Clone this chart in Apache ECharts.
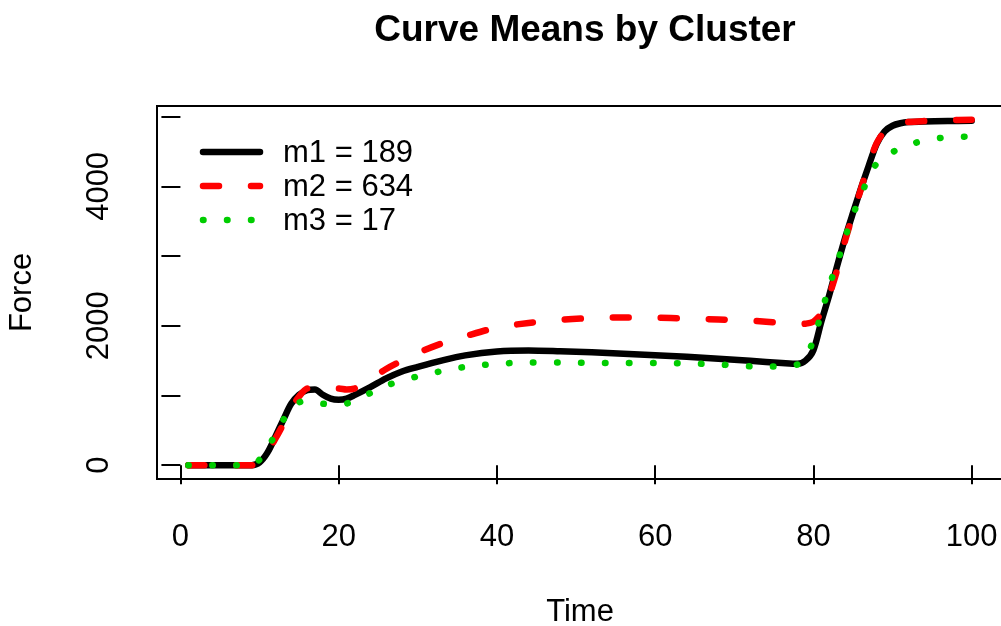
<!DOCTYPE html>
<html>
<head>
<meta charset="utf-8">
<script src="https://cdn.jsdelivr.net/npm/echarts@6/dist/echarts.min.js"></script>
<style>
  html, body { margin: 0; padding: 0; background: #fff; }
  #chart { width: 1001px; height: 626px; }
</style>
</head>
<body>
<div id="chart"></div>
<script>
// Sampled time points shared by the three cluster mean curves
const times = [1, 4, 7, 9, 10, 11, 12, 13, 14, 15, 16, 17, 18, 19, 20, 21, 22, 24, 26, 28, 30, 33, 36, 40, 44, 48, 52, 56, 60, 64, 68, 72, 76, 78, 79, 80, 81, 82, 83, 84, 85, 86, 87, 88, 89, 90, 91, 92, 94, 97, 100];

// Mean force per cluster
const m1 = [0, 0, 0, 0, 40, 180, 410, 650, 880, 1010, 1075, 1085, 1010, 955, 940, 955, 1005, 1120, 1245, 1345, 1410, 1500, 1575, 1632, 1646, 1635, 1620, 1600, 1578, 1555, 1528, 1497, 1467, 1455, 1500, 1650, 2060, 2440, 2860, 3260, 3620, 3970, 4300, 4610, 4790, 4870, 4905, 4922, 4932, 4938, 4940];
const m2 = [0, 0, 0, 0, 50, 190, 380, 590, 820, 985, 1100, 1110, 1095, 1095, 1100, 1085, 1100, 1230, 1380, 1500, 1610, 1745, 1850, 1975, 2040, 2086, 2110, 2119, 2115, 2106, 2090, 2073, 2040, 2025, 2030, 2060, 2180, 2440, 2800, 3220, 3600, 3960, 4320, 4620, 4790, 4870, 4910, 4925, 4937, 4950, 4955];
const m3 = [0, 0, 0, 0, 80, 250, 440, 650, 800, 900, 925, 905, 882, 876, 878, 885, 930, 1035, 1140, 1215, 1275, 1350, 1410, 1455, 1472, 1474, 1468, 1465, 1465, 1460, 1445, 1418, 1415, 1445, 1540, 1800, 2180, 2570, 2900, 3260, 3590, 3870, 4130, 4330, 4420, 4490, 4550, 4590, 4660, 4705, 4715];

// Cluster labels with member counts
const clusterNames = ['m1 = 189', 'm2 = 634', 'm3 = 17'];

// Axis ticks and labels
const xTicks = [0, 20, 40, 60, 80, 100];
const yTicks = [0, 1000, 2000, 3000, 4000, 5000];
const yLabels = [0, 2000, 4000];

const pairs = arr => times.map((t, i) => [t, arr[i]]);

const FONT = 'Liberation Sans, Arial, Helvetica, sans-serif';
const FS = 31;
const LINE_W = 6.5;

const colors = ['#000000', '#FF0000', '#00CD00'];
const dashes = ['solid', [16, 32], [0.5, 23.5]];

const chart = echarts.init(document.getElementById('chart'), null, { renderer: 'canvas' });

const baseLine = (i, data) => ({
  name: clusterNames[i],
  type: 'line',
  data: pairs(data),
  symbol: 'none',
  smooth: 0.3,
  animation: false,
  itemStyle: { color: colors[i] },
  lineStyle: { color: colors[i], width: LINE_W, type: dashes[i], cap: 'round', join: 'round' }
});

// Key drawn in the upper-left corner of the plot, one row per cluster
const keyLeft = 203, keyLineLen = 57, keyTop = 152, keyStep = 34;
const keyItems = [];
clusterNames.forEach((name, i) => {
  const y = keyTop + i * keyStep;
  const d = dashes[i];
  keyItems.push({
    type: 'line',
    shape: { x1: keyLeft, y1: y, x2: keyLeft + keyLineLen, y2: y },
    style: {
      stroke: colors[i], lineWidth: LINE_W, lineCap: 'round',
      lineDash: Array.isArray(d) ? d : null
    },
    silent: true
  });
  keyItems.push({
    type: 'text',
    x: 283, y: y + 1,
    style: {
      text: name, fill: '#000', font: FS + 'px ' + FONT,
      textAlign: 'left', textVerticalAlign: 'middle'
    },
    silent: true
  });
});

chart.setOption({
  backgroundColor: '#ffffff',
  animation: false,
  title: {
    text: 'Curve Means by Cluster',
    left: 580,
    top: 7,
    textAlign: 'center',
    textStyle: { fontFamily: FONT, fontWeight: 'bold', fontSize: 37, color: '#000' }
  },
  grid: {
    left: 157,
    top: 106,
    width: 846,
    height: 373,
    outerBoundsMode: 'none',
    containLabel: false,
    show: true,
    borderColor: '#000',
    borderWidth: 2,
    backgroundColor: 'transparent'
  },
  xAxis: {
    type: 'value',
    min: -2.96,
    max: 103.96,
    name: 'Time',
    nameLocation: 'middle',
    nameGap: 118,
    nameTextStyle: { fontFamily: FONT, fontSize: FS, color: '#000' },
    axisLine: { show: false },
    splitLine: { show: false },
    axisTick: { show: true, customValues: xTicks, length: 19, lineStyle: { color: '#000', width: 2 } },
    axisLabel: { customValues: xTicks, margin: 43, fontFamily: FONT, fontSize: FS, color: '#000',
                 formatter: v => String(v) }
  },
  yAxis: {
    type: 'value',
    min: -198,
    max: 5153,
    name: 'Force',
    nameLocation: 'middle',
    nameGap: 119,
    nameTextStyle: { fontFamily: FONT, fontSize: FS, color: '#000' },
    axisLine: { show: false },
    splitLine: { show: false },
    axisTick: { show: true, customValues: yTicks, length: 19, lineStyle: { color: '#000', width: 2 } },
    axisLabel: { customValues: yLabels, rotate: 90, margin: 42, fontFamily: FONT, fontSize: FS, color: '#000',
                 formatter: v => String(v) }
  },
  graphic: keyItems,
  series: [
    baseLine(0, m1),
    baseLine(1, m2),
    baseLine(2, m3)
  ]
});
</script>
</body>
</html>
